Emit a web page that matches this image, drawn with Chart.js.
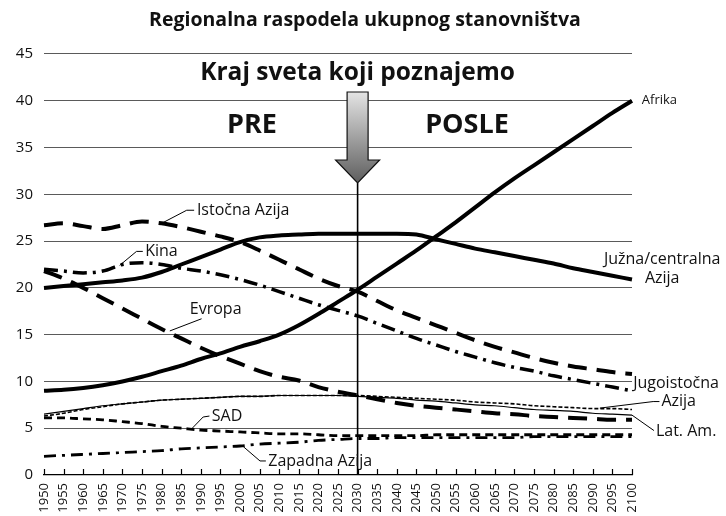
<!DOCTYPE html>
<html>
<head>
<meta charset="utf-8">
<script src="https://cdn.jsdelivr.net/npm/chart.js@4.4.1/dist/chart.umd.min.js"></script>
<style>
  html, body { margin: 0; padding: 0; background: #fff; }
  #wrap { width: 726px; height: 516px; }
</style>
</head>
<body>
<div id="wrap"><canvas id="lineChart" width="726" height="516"></canvas></div>
<script>
// Godine (x osa)
const godine = ['1950','1955','1960','1965','1970','1975','1980','1985','1990','1995','2000','2005','2010','2015','2020','2025',
  '2030','2035','2040','2045','2050','2055','2060','2065','2070','2075','2080','2085','2090','2095','2100'];

// Udeo u ukupnom stanovnistvu (%)
const afrika      = [9.0, 9.1, 9.3, 9.6, 10.0, 10.5, 11.1, 11.7, 12.4, 13.0, 13.7, 14.3, 15.0, 16.0, 17.2, 18.5,
                     19.8, 21.2, 22.6, 24.0, 25.5, 27.0, 28.6, 30.2, 31.7, 33.1, 34.5, 35.9, 37.3, 38.7, 40.0];
const juznaAzija  = [20.0, 20.2, 20.4, 20.6, 20.8, 21.1, 21.7, 22.5, 23.3, 24.1, 24.9, 25.4, 25.6, 25.7, 25.8, 25.8,
                     25.8, 25.8, 25.8, 25.7, 25.2, 24.7, 24.2, 23.8, 23.4, 23.0, 22.6, 22.1, 21.7, 21.3, 20.9];
const istocnaAzija= [26.7, 26.9, 26.6, 26.3, 26.7, 27.1, 26.9, 26.5, 26.0, 25.5, 24.9, 24.0, 23.0, 22.0, 21.0, 20.2,
                     19.6, 18.6, 17.6, 16.8, 16.0, 15.2, 14.4, 13.7, 13.1, 12.5, 12.0, 11.6, 11.3, 11.0, 10.8];
const kina        = [22.0, 21.8, 21.6, 21.8, 22.5, 22.7, 22.5, 22.1, 21.8, 21.4, 20.9, 20.3, 19.6, 18.9, 18.2, 17.6,
                     17.0, 16.2, 15.4, 14.6, 13.9, 13.2, 12.6, 12.0, 11.5, 11.1, 10.6, 10.2, 9.8, 9.4, 9.0];
const evropa      = [21.8, 21.0, 20.0, 18.9, 17.8, 16.7, 15.6, 14.6, 13.6, 12.7, 11.9, 11.1, 10.5, 10.1, 9.4, 8.9,
                     8.5, 8.1, 7.7, 7.4, 7.2, 7.0, 6.8, 6.6, 6.5, 6.3, 6.2, 6.1, 6.0, 5.9, 5.9];
const jugoistocna = [6.3, 6.6, 7.0, 7.3, 7.6, 7.8, 8.0, 8.1, 8.2, 8.3, 8.4, 8.4, 8.5, 8.5, 8.5, 8.5,
                     8.5, 8.4, 8.3, 8.2, 8.1, 8.0, 7.8, 7.7, 7.6, 7.4, 7.3, 7.2, 7.1, 7.1, 7.0];
const latAm       = [6.5, 6.8, 7.1, 7.4, 7.6, 7.8, 8.0, 8.1, 8.2, 8.3, 8.4, 8.4, 8.5, 8.5, 8.5, 8.5,
                     8.4, 8.3, 8.2, 8.0, 7.9, 7.7, 7.5, 7.4, 7.2, 7.0, 6.9, 6.8, 6.6, 6.5, 6.4];
const sad         = [6.1, 6.1, 6.0, 5.9, 5.7, 5.5, 5.2, 5.0, 4.8, 4.7, 4.6, 4.5, 4.4, 4.4, 4.3, 4.2,
                     4.2, 4.2, 4.2, 4.2, 4.3, 4.3, 4.3, 4.3, 4.3, 4.3, 4.3, 4.3, 4.3, 4.3, 4.3];
const zapadnaAzija= [2.0, 2.1, 2.2, 2.3, 2.4, 2.5, 2.6, 2.8, 2.9, 3.0, 3.1, 3.3, 3.4, 3.5, 3.7, 3.8,
                     3.9, 3.9, 4.0, 4.0, 4.0, 4.0, 4.0, 4.0, 4.0, 4.1, 4.1, 4.1, 4.1, 4.1, 4.1];

const FONT = '"Open Sans", "DejaVu Sans", sans-serif';

// Oznake uz linije (godina, vrednost) + linija vodilja
const oznake = [
  { tekst: ['Istočna Azija'], x: 1989, y: 28.3, vodilja: [[1980, 26.9], [1986.4, 28.3], [1988.3, 28.3]] },
  { tekst: ['Kina'], x: 1975.8, y: 23.9, vodilja: [[1969.3, 22.4], [1973.6, 23.9], [1975.2, 23.9]] },
  { tekst: ['Evropa'], x: 1987.2, y: 17.7, vodilja: [[1982.1, 15.4], [1990.2, 16.7]] },
  { tekst: ['SAD'], x: 1992.8, y: 6.3, vodilja: [[1987.7, 4.95], [1990.6, 6.2], [1992.2, 6.3]] },
  { tekst: ['Zapadna Azija'], x: 2007.2, y: 1.5, vodilja: [[2000.8, 3.05], [2005.1, 1.5], [2006.6, 1.5]] },
  { tekst: ['Afrika'], x: 2102.5, y: 40.1, vodilja: [], size: 13 },
  { tekst: ['Južna/centralna', 'Azija'], x: 2107.7, y: 23.0, vodilja: [], centar: true },
  { tekst: ['Jugoistočna'], x: 2100.3, y: 9.8, vodilja: [] },
  { tekst: ['Azija'], x: 2107.5, y: 7.85, vodilja: [[2091.8, 7.15], [2105.4, 7.85], [2107, 7.85]] },
  { tekst: ['Lat. Am.'], x: 2106.1, y: 4.7, vodilja: [[2100, 6.4], [2105.6, 4.75]] }
];

function skup(label, data, width, dash) {
  return {
    label: label,
    data: data,
    borderColor: '#000',
    borderWidth: width,
    borderDash: dash,
    borderCapStyle: 'butt',
    pointRadius: 0,
    fill: false,
    cubicInterpolationMode: 'monotone'
  };
}

// Crtanje naslova, strelice, oznaka...
const dodaci = {
  id: 'dodaci',
  afterDraw(chart) {
    const ctx = chart.ctx;
    const xs = chart.scales.x;
    const ys = chart.scales.y;
    const area = chart.chartArea;
    const px = god => xs.getPixelForValue((god - 1950) / 5);
    const py = v => ys.getPixelForValue(v);

    ctx.save();
    // naslov
    ctx.fillStyle = '#111';
    ctx.textAlign = 'center';
    ctx.textBaseline = 'middle';
    ctx.font = 'bold 19.5px ' + FONT;
    ctx.fillText('Regionalna raspodela ukupnog stanovništva', 365, 20);

    // kvacice na x osi (prema gore)
    ctx.strokeStyle = '#000';
    ctx.lineWidth = 1.2;
    ctx.beginPath();
    for (let i = 0; i < godine.length; i++) {
      const x = Math.round(xs.getPixelForValue(i)) + 0.5;
      ctx.moveTo(x, area.bottom);
      ctx.lineTo(x, area.bottom - 6);
    }
    ctx.stroke();

    // vertikalna linija 2030
    const x30 = px(2030);
    const vrh = 183;
    ctx.lineWidth = 1.6;
    ctx.beginPath();
    ctx.moveTo(x30, vrh);
    ctx.lineTo(x30, area.bottom);
    ctx.stroke();

    // strelica
    const grad = ctx.createLinearGradient(0, 92, 0, vrh);
    grad.addColorStop(0, '#e4e4e4');
    grad.addColorStop(1, '#5e5e5e');
    ctx.beginPath();
    ctx.moveTo(x30 - 10.5, 92);
    ctx.lineTo(x30 + 10.5, 92);
    ctx.lineTo(x30 + 10.5, 160);
    ctx.lineTo(x30 + 22, 160);
    ctx.lineTo(x30, vrh);
    ctx.lineTo(x30 - 22, 160);
    ctx.lineTo(x30 - 10.5, 160);
    ctx.closePath();
    ctx.fillStyle = grad;
    ctx.fill();
    ctx.lineWidth = 1.2;
    ctx.strokeStyle = '#111';
    ctx.stroke();

    // natpisi
    ctx.fillStyle = '#111';
    ctx.font = 'bold 24.5px ' + FONT;
    ctx.fillText('Kraj sveta koji poznajemo', x30, 73);
    ctx.font = 'bold 27px ' + FONT;
    ctx.fillText('PRE', 252, 125);
    ctx.fillText('POSLE', 467, 125);

    // oznake serija
    ctx.lineWidth = 1;
    ctx.strokeStyle = '#000';
    oznake.forEach(o => {
      if (o.vodilja.length) {
        ctx.beginPath();
        o.vodilja.forEach((p, i) => {
          if (i === 0) ctx.moveTo(px(p[0]), py(p[1]));
          else ctx.lineTo(px(p[0]), py(p[1]));
        });
        ctx.stroke();
      }
      ctx.font = (o.size || 16) + 'px ' + FONT;
      ctx.textAlign = o.centar ? 'center' : 'left';
      o.tekst.forEach((t, i) => {
        ctx.fillText(t, px(o.x), py(o.y) + i * 19);
      });
    });
    ctx.restore();
  }
};

const ctxLine = document.getElementById('lineChart').getContext('2d');
const lineChart = new Chart(ctxLine, {
  type: 'line',
  data: {
    labels: godine,
    datasets: [
      skup('Afrika', afrika, 4, []),
      skup('Južna/centralna Azija', juznaAzija, 4, []),
      skup('Istočna Azija', istocnaAzija, 4, [19, 10]),
      skup('Kina', kina, 3.5, [14, 6, 3, 6]),
      skup('Evropa', evropa, 4, [19, 10]),
      skup('Jugoistočna Azija', jugoistocna, 1.6, [4, 2]),
      skup('Lat. Am.', latAm, 1.2, []),
      skup('SAD', sad, 2.8, [8, 5]),
      skup('Zapadna Azija', zapadnaAzija, 2.8, [12, 6, 3, 6])
    ]
  },
  options: {
    responsive: false,
    animation: false,
    layout: { padding: { top: 54, right: 94, left: 0, bottom: 0 } },
    plugins: { legend: { display: false }, tooltip: { enabled: false }, title: { display: false } },
    scales: {
      x: {
        grid: { display: false, drawTicks: false },
        border: { display: true, color: '#000', width: 1.2 },
        ticks: {
          autoSkip: false, minRotation: 90, maxRotation: 90, padding: 8,
          color: '#111', font: { family: FONT, size: 13 }
        },
        afterFit(scale) { scale.height = 41; }
      },
      y: {
        min: 0, max: 45,
        grid: { color: '#5a5a5a', lineWidth: 1.1, drawTicks: false },
        border: { display: false },
        ticks: { stepSize: 5, padding: 11, color: '#111', font: { family: FONT, size: 15 } },
        afterFit(scale) { scale.width = 44; }
      }
    }
  },
  plugins: [dodaci]
});
</script>
</body>
</html>
